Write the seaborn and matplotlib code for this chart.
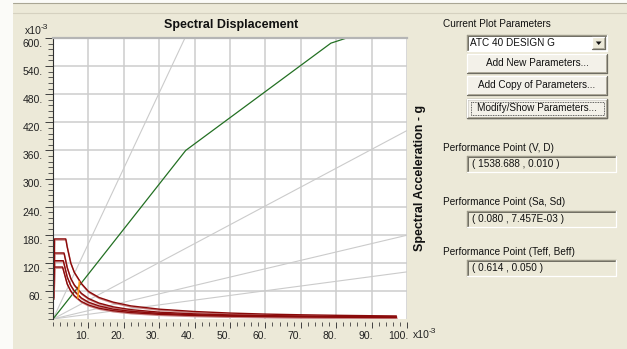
import matplotlib
matplotlib.use("Agg")
import numpy as np
import pandas as pd
import seaborn as sns
import matplotlib.pyplot as plt
import matplotlib.patheffects as pe
from matplotlib.patches import Rectangle, Polygon
from matplotlib.transforms import ScaledTranslation
from matplotlib.ticker import MultipleLocator

# ---------------- data (Sd and Sa in units of 1e-3) ----------------
capacity_sd = [0, 37.5, 78.5, 85]
capacity_sa = [0, 360, 589, 605]

demand_1_sd = [0.2, 0.4, 3.6, 4, 5, 6, 8, 10, 13, 17, 22, 30, 40, 50, 60, 70, 80, 90, 97]
demand_1_sa = [45, 171, 171, 154, 120, 100, 76, 59, 46, 36, 28, 21, 16, 12.7, 10.5, 9, 7.9, 7, 6.5]
demand_2_sd = [0.2, 0.4, 3.1, 4, 5, 6, 8, 10, 13, 17, 22, 30, 40, 50, 60, 70, 80, 90, 97]
demand_2_sa = [45, 141, 141, 110, 87, 73, 55, 44, 34, 26, 20, 14.6, 11, 8.7, 7.3, 6.2, 5.5, 4.9, 4.5]
demand_3_sd = [0.2, 0.4, 2.9, 4, 5, 6, 8, 10, 13, 17, 22, 30, 40, 50, 60, 70, 80, 90, 97]
demand_3_sa = [45, 124.5, 124.5, 90, 72, 60, 45, 36, 28, 21, 16.4, 12, 9, 7.2, 6, 5.2, 4.5, 4, 3.7]
demand_4_sd = [0.2, 0.4, 2.7, 4, 5, 6, 8, 10, 13, 17, 22, 30, 40, 50, 60, 70, 80, 90, 97]
demand_4_sa = [45, 111, 111, 75, 60, 50, 37.5, 30, 23, 17.6, 13.6, 10, 7.5, 6, 5, 4.3, 3.8, 3.3, 3.1]

period_lines_T = [0.5, 1.0, 1.5, 2.0]        # seconds, constant-period radial lines
single_demand_sd = [7.0, 7.457]
single_demand_sa = [45, 80]

perf_V, perf_D = 1538.688, 0.010
perf_Sa, perf_Sd = 0.080, 7.457e-3
perf_Teff, perf_Beff = 0.614, 0.050

x_ticks = [10, 20, 30, 40, 50, 60, 70, 80, 90, 100]
y_ticks = [60, 120, 180, 240, 300, 360, 420, 480, 540, 600]

# ---------------- styling ----------------
W, H = 627, 349
BG = "#ece9d8"
sns.set_theme(style="white")
FONT = ["Liberation Sans Narrow", "Liberation Sans", "DejaVu Sans"]
plt.rcParams["font.family"] = FONT

fig = plt.figure(figsize=(W / 100, H / 100), dpi=100, facecolor=BG)

# full-figure pixel canvas for the dialog chrome
bg = fig.add_axes([0, 0, 1, 1], zorder=0)
bg.set_xlim(0, W)
bg.set_ylim(H, 0)
bg.axis("off")
bg.add_patch(Rectangle((0, 0), 13, H, fc="#fbfbf8", ec="none"))
bg.add_patch(Rectangle((0, 0), W, 2.5, fc="#fbfbf8", ec="none"))
bg.plot([13, W], [3, 3], color="#a9a694", lw=0.8)
bg.plot([13, W], [12.5, 12.5], color="#d5d1c0", lw=0.8)

# ---------------- chart ----------------
x0, x1, y0, y1 = 53, 407, 38, 319
ax = fig.add_axes([x0 / W, 1 - y1 / H, (x1 - x0) / W, (y1 - y0) / H], zorder=2)
ax.set_facecolor("white")

# constant-period lines
g = 9.81
for T in period_lines_T:
    slope = 4 * np.pi ** 2 / (g * T ** 2)
    sns.lineplot(x=[0, 100], y=[0, 100 * slope], color="#cbcbcb", lw=0.8, ax=ax)

# capacity curve
sns.lineplot(x=capacity_sd, y=capacity_sa, color="#237023", lw=0.9, sort=False, ax=ax)

# family of demand spectra
demand = pd.concat([
    pd.DataFrame({"Sd": sd, "Sa": sa, "curve": k})
    for k, (sd, sa) in enumerate([(demand_1_sd, demand_1_sa), (demand_2_sd, demand_2_sa),
                                  (demand_3_sd, demand_3_sa), (demand_4_sd, demand_4_sa)])
])
sns.lineplot(data=demand, x="Sd", y="Sa", units="curve", estimator=None, sort=False,
             color="#8b0a0a", lw=1.0, ax=ax,
             path_effects=[pe.SimpleLineShadow(offset=(0.3, -0.8), shadow_color="#c98585", alpha=1),
                           pe.Normal()])

# single demand spectrum segment reaching the performance point
sns.lineplot(x=single_demand_sd, y=single_demand_sa, color="#ff9a1e", lw=1.2, sort=False, ax=ax)

ax.set_xlim(0, 100)
ax.set_ylim(0, 600)
ax.set_xlabel("")
ax.set_ylabel("")
ax.xaxis.set_major_locator(MultipleLocator(10))
ax.xaxis.set_minor_locator(MultipleLocator(2))
ax.yaxis.set_major_locator(MultipleLocator(60))
ax.yaxis.set_minor_locator(MultipleLocator(12))
ax.grid(True, which="major", color="#cdcdcd", lw=1.1)
ax.set_axisbelow(True)

ax.spines["right"].set_visible(False)
ax.spines["bottom"].set_position(("outward", 2.2))
ax.spines["bottom"].set_visible(False)
ax.spines["left"].set_color("#303030")
ax.spines["left"].set_linewidth(0.8)
ax.spines["top"].set_color("#b5b5b5")
ax.spines["top"].set_linewidth(1.6)

ax.tick_params(axis="y", which="major", direction="out", length=5.8, width=0.7,
               color="#404040", pad=1.5, labelsize=7.5, labelcolor="#222222", left=True)
ax.tick_params(axis="y", which="minor", direction="out", length=3.4, width=0.6,
               color="#404040", left=True)
ax.tick_params(axis="x", which="major", direction="out", length=4.3, width=0.7,
               color="#404040", pad=2.0, labelsize=7.5, labelcolor="#222222", bottom=True)
ax.tick_params(axis="x", which="minor", direction="out", length=2.6, width=0.6,
               color="#404040", bottom=True)

ax.set_xticks(x_ticks)
ax.set_xticklabels([f"{v}." for v in x_ticks])
ax.set_yticks(y_ticks)
ax.set_yticklabels([f"{v}." for v in y_ticks])
for lab in ax.get_xticklabels():
    lab.set_horizontalalignment("right")
    lab.set_transform(lab.get_transform() + ScaledTranslation(0.01, 0, fig.dpi_scale_trans))
for lab in ax.get_yticklabels():
    lab.set_transform(lab.get_transform() + ScaledTranslation(0, -0.05, fig.dpi_scale_trans))

# titles and exponent markers
bg.text(231, 25, "Spectral Displacement", fontsize=9, fontweight="bold",
        ha="center", va="center", color="#111111")
bg.text(420, 178, "Spectral Acceleration - g", fontsize=9, fontweight="bold",
        ha="center", va="center", rotation=90, color="#111111")
bg.text(25, 34, "x10", fontsize=7.5, ha="left", va="baseline", color="#222222")
bg.text(40.5, 29, "-3", fontsize=6, ha="left", va="baseline", color="#222222")
bg.text(413, 338, "x10", fontsize=7.5, ha="left", va="baseline", color="#222222")
bg.text(428.5, 333, "-3", fontsize=6, ha="left", va="baseline", color="#222222")

# ---------------- parameter panel ----------------
def raised(x, y, w, h, face="#f3f1e9"):
    bg.add_patch(Rectangle((x, y), w, h, fc=face, ec="none"))
    bg.plot([x, x + w], [y, y], color="white", lw=0.9)
    bg.plot([x, x], [y, y + h], color="white", lw=0.9)
    bg.plot([x, x + w], [y + h, y + h], color="#6f6d62", lw=0.9)
    bg.plot([x + w, x + w], [y, y + h], color="#6f6d62", lw=0.9)
    bg.plot([x + 1, x + w - 1], [y + h - 1, y + h - 1], color="#aca899", lw=0.7)
    bg.plot([x + w - 1, x + w - 1], [y + 1, y + h - 1], color="#aca899", lw=0.7)


def sunken(x, y, w, h, face=BG):
    bg.add_patch(Rectangle((x, y), w, h, fc=face, ec="none"))
    bg.plot([x, x + w], [y, y], color="#9d9a8a", lw=1.0)
    bg.plot([x, x], [y, y + h], color="#9d9a8a", lw=1.0)
    bg.plot([x + 1, x + w - 1], [y + 1, y + 1], color="#6f6d62", lw=0.7)
    bg.plot([x + 1, x + 1], [y + 1, y + h - 1], color="#6f6d62", lw=0.7)
    bg.plot([x, x + w], [y + h, y + h], color="white", lw=0.9)
    bg.plot([x + w, x + w], [y, y + h], color="white", lw=0.9)


TXT = dict(fontsize=7.2, color="#111111", va="center")
bg.text(443, 24, "Current Plot Parameters", ha="left", **TXT)

# combo box
sunken(467, 35, 140, 16, face="white")
bg.text(470, 43, "ATC 40 DESIGN G", ha="left", **TXT)
raised(592, 37, 13, 12, face=BG)
bg.add_patch(Polygon([[595.8, 41.5], [601.6, 41.5], [598.7, 45]], closed=True,
                     fc="#111111", ec="none"))

# buttons
raised(467, 53.5, 140, 19)
bg.text(537, 63, "Add New Parameters...", ha="center", **TXT)
raised(467, 76, 140, 19)
bg.text(537, 85.5, "Add Copy of Parameters...", ha="center", **TXT)
raised(467, 98.5, 140, 19)
bg.add_patch(Rectangle((467, 98.5), 140, 19, fc="none", ec="#111111", lw=0.9))
bg.add_patch(Rectangle((470.5, 101.5), 133, 13, fc="none", ec="#333333", lw=0.6,
                       linestyle=(0, (1, 1))))
bg.text(537, 108, "Modify/Show Parameters...", ha="center", **TXT)

# performance point read-outs
bg.text(443, 148, "Performance Point (V, D)", ha="left", **TXT)
sunken(467, 156, 149, 16)
bg.text(472, 164, f"( {perf_V:.3f} , {perf_D:.3f} )", ha="left", **TXT)

bg.text(443, 202, "Performance Point (Sa, Sd)", ha="left", **TXT)
sunken(467, 211, 149, 16)
bg.text(472, 219, f"( {perf_Sa:.3f} , {perf_Sd:.3E} )", ha="left", **TXT)

bg.text(443, 252, "Performance Point (Teff, Beff)", ha="left", **TXT)
sunken(467, 260, 149, 16)
bg.text(472, 268, f"( {perf_Teff:.3f} , {perf_Beff:.3f} )", ha="left", **TXT)

fig.savefig("out.png", dpi=100, facecolor=BG)
